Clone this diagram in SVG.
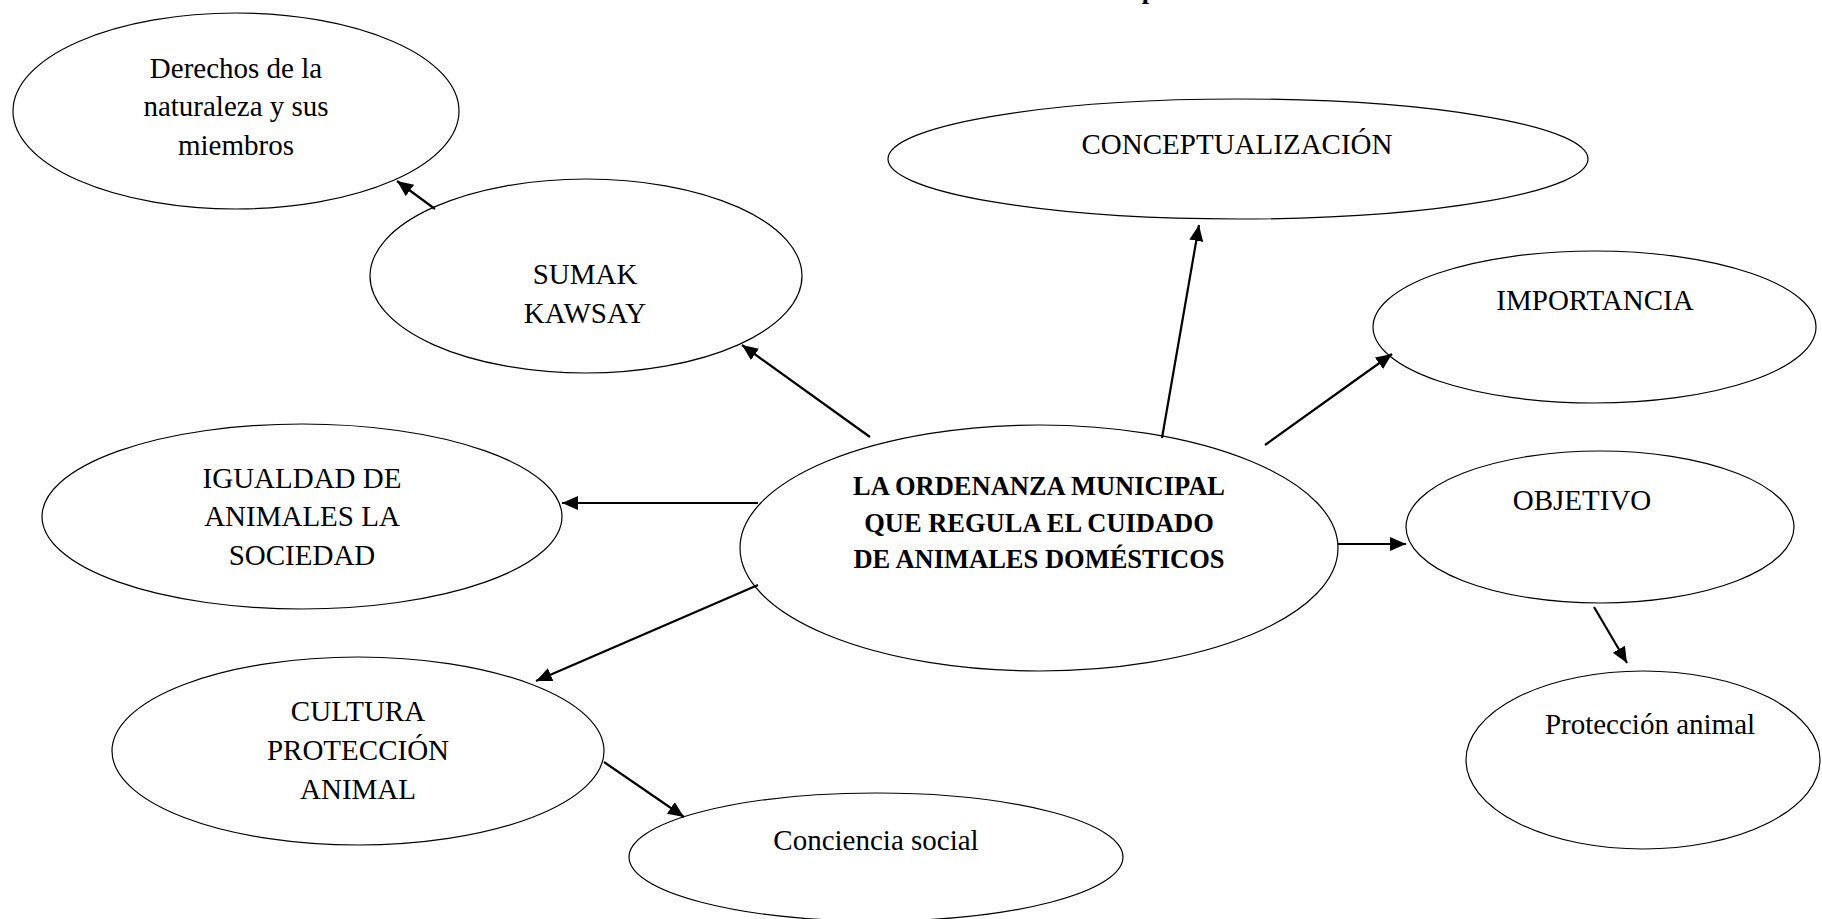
<svg xmlns="http://www.w3.org/2000/svg" width="1822" height="919" viewBox="0 0 1822 919">
<style>
  .node ellipse { fill: #ffffff; stroke: #000000; stroke-width: 1.2; }
  .t { font-family: "Liberation Serif", "Times New Roman", serif; font-size: 29px; fill: #000000; text-anchor: middle; }
  .b { font-family: "Liberation Serif", "Times New Roman", serif; font-size: 26.5px; font-weight: bold; fill: #000000; text-anchor: middle; }
  .conn line { stroke: #000000; stroke-width: 2.2; marker-end: url(#arrow); }
</style>
<defs>
  <marker id="arrow" markerUnits="userSpaceOnUse" markerWidth="17" markerHeight="15" refX="16" refY="7" orient="auto">
    <path d="M0,0 L16,7 L0,14 Z" fill="#000000"/>
  </marker>
</defs>
<rect x="0" y="0" width="1822" height="919" fill="#ffffff"/>

<text class="b" x="1149" y="-2" font-size="29px">p</text>

<g id="node-derechos" class="node">
  <ellipse cx="236" cy="111" rx="223" ry="98"/>
  <text class="t" x="236" y="78">Derechos de la</text>
  <text class="t" x="236" y="116">naturaleza y sus</text>
  <text class="t" x="236" y="155">miembros</text>
</g>
<g id="node-sumak" class="node">
  <ellipse cx="586" cy="276" rx="216" ry="97"/>
  <text class="t" x="585" y="284">SUMAK</text>
  <text class="t" x="585" y="323">KAWSAY</text>
</g>
<g id="node-conceptualizacion" class="node">
  <ellipse cx="1238" cy="159" rx="350" ry="60"/>
  <text class="t" x="1237" y="154">CONCEPTUALIZACIÓN</text>
</g>
<g id="node-importancia" class="node">
  <ellipse cx="1594.5" cy="327" rx="221.5" ry="76"/>
  <text class="t" x="1595" y="310">IMPORTANCIA</text>
</g>
<g id="node-igualdad" class="node">
  <ellipse cx="302" cy="516.5" rx="260" ry="92.5"/>
  <text class="t" x="302" y="488">IGUALDAD DE</text>
  <text class="t" x="302" y="526">ANIMALES LA</text>
  <text class="t" x="302" y="565">SOCIEDAD</text>
</g>
<g id="node-central" class="node">
  <ellipse cx="1039" cy="548" rx="299" ry="123"/>
  <text class="b" x="1039" y="495">LA ORDENANZA MUNICIPAL</text>
  <text class="b" x="1039" y="532">QUE REGULA EL CUIDADO</text>
  <text class="b" x="1039" y="568">DE ANIMALES DOMÉSTICOS</text>
</g>
<g id="node-objetivo" class="node">
  <ellipse cx="1600" cy="527" rx="194" ry="76"/>
  <text class="t" x="1582" y="510">OBJETIVO</text>
</g>
<g id="node-proteccion" class="node">
  <ellipse cx="1643" cy="760" rx="177" ry="89"/>
  <text class="t" x="1650" y="734">Protección animal</text>
</g>
<g id="node-cultura" class="node">
  <ellipse cx="358" cy="751" rx="246" ry="94"/>
  <text class="t" x="358" y="721">CULTURA</text>
  <text class="t" x="358" y="760">PROTECCIÓN</text>
  <text class="t" x="358" y="799">ANIMAL</text>
</g>
<g id="node-conciencia" class="node">
  <ellipse cx="876" cy="857" rx="247" ry="64"/>
  <text class="t" x="876" y="850">Conciencia social</text>
</g>

<g id="connectors" class="conn">
  <line x1="435" y1="209" x2="397" y2="181"/>
  <line x1="870" y1="437" x2="742" y2="345"/>
  <line x1="1162" y1="438" x2="1199" y2="225"/>
  <line x1="1265" y1="445" x2="1392" y2="354"/>
  <line x1="758" y1="503" x2="562" y2="503"/>
  <line x1="1338" y1="544" x2="1406" y2="544"/>
  <line x1="758" y1="585" x2="536" y2="681"/>
  <line x1="1594" y1="607" x2="1627" y2="663"/>
  <line x1="604" y1="762" x2="684" y2="817"/>
</g>
</svg>
